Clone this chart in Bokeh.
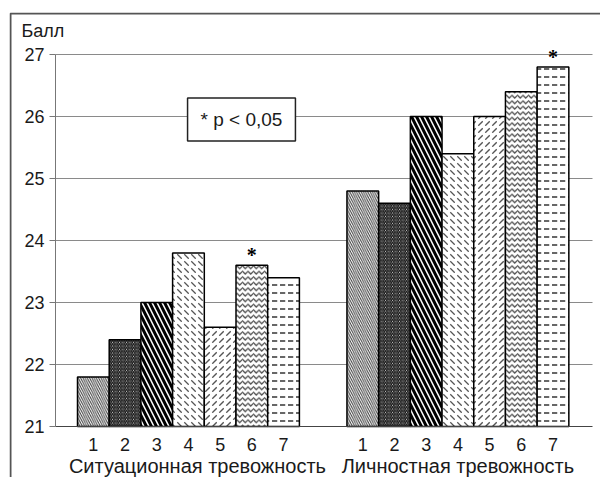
from bokeh.plotting import figure
from bokeh.models import ColumnDataSource, Label, FixedTicker, Range1d
from bokeh.embed import file_html
from bokeh.resources import INLINE

# Groups and category numbers
groups = ["Ситуационная тревожность", "Личностная тревожность"]
categories = ["1", "2", "3", "4", "5", "6", "7"]

# Mean scores per category
situational = [21.8, 22.4, 23.0, 23.8, 22.6, 23.6, 23.4]
personal = [24.8, 24.6, 26.0, 25.4, 26.0, 26.4, 26.8]

# Significance marks (p < 0.05)
situational_sig = ["", "", "", "", "", "*", ""]
personal_sig = ["", "", "", "", "", "", "*"]

y_ticks = [21, 22, 23, 24, 25, 26, 27]

# Hatch style for each category
hatch_patterns = ["\\", "\\", "\\", "`", ",", "v", '"']
hatch_scales = [4.5, 3.5, 10, 7, 7, 5.5, 8]
hatch_weights = [1, 1.3, 3, 1.3, 1.3, 1.2, 1.5]
hatch_colors = ["#3a3a3a", "#111111", "#000000", "#555555", "#555555", "#444444", "#333333"]

# ---- layout geometry (pixels) ----
W, H = 600, 477
BORDER_L, BORDER_T = 9, 12          # outer chart frame
AXIS_X_PX, AXIS_RIGHT_PX = 55, 592  # value axis position, right end of the category axis
BASE_PX = 426                       # pixel row of the value 21
FIRST_BAR_PX = 77                   # left edge of the first bar
BAR_PX = 31.7                       # bar width in pixels
UNIT_PX = 62.0                      # pixels per score point
GROUP_GAP = 1.5                     # gap between the groups, in bar widths


def xpx(px):
    return (px - FIRST_BAR_PX) / BAR_PX


def ypx(py):
    return 21 + (BASE_PX - py) / UNIT_PX


x_start, x_end = xpx(BORDER_L), xpx(W)
y_start, y_end = ypx(H), ypx(BORDER_T)

# bar centres: categories side by side, groups separated by a gap
n = len(categories)
group_offsets = [g * (n + GROUP_GAP) for g in range(len(groups))]
xs = [off + i + 0.5 for off in group_offsets for i in range(n)]

src = ColumnDataSource(dict(
    x=xs,
    top=situational + personal,
    star=situational_sig + personal_sig,
    hatch=hatch_patterns * 2,
    hscale=hatch_scales * 2,
    hweight=hatch_weights * 2,
    hcolor=hatch_colors * 2,
))

p = figure(x_range=Range1d(x_start, x_end), y_range=Range1d(y_start, y_end),
           width=W, height=H, output_backend="svg", toolbar_location=None,
           min_border_left=BORDER_L, min_border_top=BORDER_T,
           min_border_right=0, min_border_bottom=0)

p.outline_line_color = None
p.background_fill_color = "white"
p.border_fill_color = "white"

# outer chart frame: its left and top edges
p.line(x=[xpx(BORDER_L + 1), xpx(BORDER_L + 1), xpx(W + 5)],
       y=[ypx(H + 5), ypx(BORDER_T + 1), ypx(BORDER_T + 1)],
       line_color="#555555", line_width=2)

p.vbar(x="x", top="top", bottom=21, width=1, source=src,
       fill_color="white", line_color="black", line_width=1.5,
       hatch_pattern="hatch", hatch_scale="hscale", hatch_weight="hweight",
       hatch_color="hcolor")

p.text(x="x", y="top", text="star", source=src, text_align="center",
       text_baseline="bottom", y_offset=1, text_font="Liberation Sans",
       text_font_size="20px", text_font_style="bold", text_color="black")

# value axis
p.yaxis.fixed_location = xpx(AXIS_X_PX)
p.yaxis.ticker = FixedTicker(ticks=y_ticks)
p.yaxis.bounds = (21, 27)
p.yaxis.axis_line_color = "#777777"
p.yaxis.major_tick_line_color = "#777777"
p.yaxis.major_tick_out = 6
p.yaxis.major_tick_in = 0
p.yaxis.minor_tick_line_color = None
p.yaxis.major_label_text_font = "Liberation Sans"
p.yaxis.major_label_text_font_size = "18px"
p.yaxis.major_label_text_color = "#1a1a1a"
p.yaxis.major_label_standoff = 5

# category axis: numbers under each bar
overrides = {}
for x, c in zip(xs, categories * 2):
    overrides[int(x) if float(x).is_integer() else x] = c
p.xaxis.fixed_location = 21
p.xaxis.bounds = (xpx(AXIS_X_PX), xpx(AXIS_RIGHT_PX))
p.xaxis.ticker = FixedTicker(ticks=xs)
p.xaxis.major_label_overrides = overrides
p.xaxis.axis_line_color = "#444444"
p.xaxis.major_tick_line_color = None
p.xaxis.minor_tick_line_color = None
p.xaxis.major_label_text_font = "Liberation Sans"
p.xaxis.major_label_text_font_size = "18px"
p.xaxis.major_label_text_color = "#1a1a1a"
p.xaxis.major_label_standoff = 5

# group names under the numbers
name_shift = [9, 0]
for off, name, dx in zip(group_offsets, groups, name_shift):
    p.add_layout(Label(x=off + n / 2, y=ypx(465), x_offset=dx, text=name,
                       text_align="center", text_baseline="middle",
                       text_font="Liberation Sans", text_font_size="20px",
                       text_color="#1a1a1a"))

p.xgrid.grid_line_color = None
p.ygrid.ticker = FixedTicker(ticks=y_ticks[1:])
p.ygrid.cross_bounds = (xpx(AXIS_X_PX), xpx(AXIS_RIGHT_PX))
p.ygrid.grid_line_color = "#8a8a8a"
p.ygrid.grid_line_width = 1

# axis title in the upper-left corner
p.add_layout(Label(x=xpx(21), y=ypx(30), text="Балл", text_baseline="alphabetic",
                   text_font="Liberation Sans", text_font_size="18px",
                   text_color="#1a1a1a"))

# significance legend box
p.add_layout(Label(x=xpx(241), y=ypx(119), text="* p < 0,05", text_align="center",
                   text_baseline="middle", text_font="Liberation Sans",
                   text_font_size="19px", text_color="#1a1a1a",
                   background_fill_color="white", border_line_color="#222222",
                   border_line_width=1.5, padding=(13, 11)))

open("out.html", "w").write(file_html(p, INLINE))
